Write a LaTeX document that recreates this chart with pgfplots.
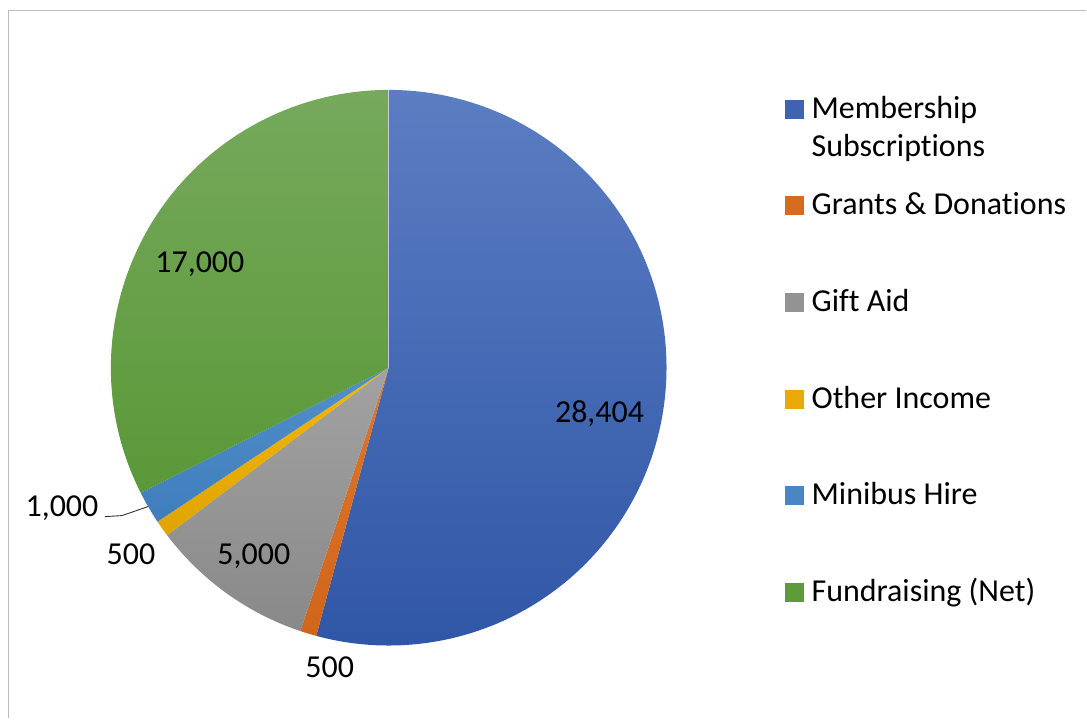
\documentclass[border=0pt]{standalone}
\usepackage{pgfplots}
\pgfplotsset{compat=1.18}
\usepackage{pgfplotstable}
\usepackage{fontspec}
\setmainfont{Carlito}[Ligatures=CommonOff]

\definecolor{cBlueT}{HTML}{5B7DC2}
\definecolor{cBlueB}{HTML}{2F56A6}
\definecolor{cOrT}{HTML}{E0762A}
\definecolor{cOrB}{HTML}{D0651C}
\definecolor{cGrT}{HTML}{A2A2A2}
\definecolor{cGrB}{HTML}{898989}
\definecolor{cYeT}{HTML}{F2B800}
\definecolor{cYeB}{HTML}{E0A400}
\definecolor{cLbT}{HTML}{5190CA}
\definecolor{cLbB}{HTML}{3F7DBD}
\definecolor{cGnT}{HTML}{76A95C}
\definecolor{cGnB}{HTML}{5A9838}
\definecolor{mBlue}{HTML}{3F63B0}
\definecolor{mOr}{HTML}{D66A1F}
\definecolor{mGr}{HTML}{939393}
\definecolor{mYe}{HTML}{E8AA08}
\definecolor{mLb}{HTML}{4A86C4}
\definecolor{mGn}{HTML}{5C9A3A}
\definecolor{frame}{HTML}{BCBCBC}

\pgfplotstableread{
label value
Membership 28404
Grants 500
GiftAid 5000
Other 500
Minibus 1000
Fundraising 17000
}\datatable

\begin{document}
\begin{tikzpicture}
\pgfplotstablegetelem{0}{value}\of\datatable \let\vA\pgfplotsretval
\pgfplotstablegetelem{1}{value}\of\datatable \let\vB\pgfplotsretval
\pgfplotstablegetelem{2}{value}\of\datatable \let\vC\pgfplotsretval
\pgfplotstablegetelem{3}{value}\of\datatable \let\vD\pgfplotsretval
\pgfplotstablegetelem{4}{value}\of\datatable \let\vE\pgfplotsretval
\pgfplotstablegetelem{5}{value}\of\datatable \let\vF\pgfplotsretval
\edef\tot{\fpeval{\vA+\vB+\vC+\vD+\vE+\vF}}
\edef\aO{90}
\edef\aA{\fpeval{\aO-360*\vA/\tot}}
\edef\aB{\fpeval{\aA-360*\vB/\tot}}
\edef\aC{\fpeval{\aB-360*\vC/\tot}}
\edef\aD{\fpeval{\aC-360*\vD/\tot}}
\edef\aE{\fpeval{\aD-360*\vE/\tot}}
\edef\aF{\fpeval{\aE-360*\vF/\tot}}
\def\R{278bp}
\begin{axis}[
  width=1087bp, height=719bp, scale only axis,
  xmin=0, xmax=1087, ymin=0, ymax=719,
  hide axis, clip=false,
  font=\fontsize{32bp}{38bp}\selectfont,
]
\path (axis cs:0,0) rectangle (axis cs:1087,719);
% frame (top and left visible)
\draw[frame, line width=1.6bp] (axis cs:8.5,0) -- (axis cs:8.5,708.5) -- (axis cs:1087,708.5);
% wedges
\shade[top color=cBlueT, bottom color=cBlueB] (axis cs:389,351) -- ++(\aO:\R) arc[start angle=\aO, end angle=\aA, radius=\R] -- cycle;
\shade[top color=cOrT, bottom color=cOrB] (axis cs:389,351) -- ++(\aA:\R) arc[start angle=\aA, end angle=\aB, radius=\R] -- cycle;
\shade[top color=cGrT, bottom color=cGrB] (axis cs:389,351) -- ++(\aB:\R) arc[start angle=\aB, end angle=\aC, radius=\R] -- cycle;
\shade[top color=cYeT, bottom color=cYeB] (axis cs:389,351) -- ++(\aC:\R) arc[start angle=\aC, end angle=\aD, radius=\R] -- cycle;
\shade[top color=cLbT, bottom color=cLbB] (axis cs:389,351) -- ++(\aD:\R) arc[start angle=\aD, end angle=\aE, radius=\R] -- cycle;
\shade[top color=cGnT, bottom color=cGnB] (axis cs:389,351) -- ++(\aE:\R) arc[start angle=\aE, end angle=\aF, radius=\R] -- cycle;
% data labels
\node[anchor=base] at (axis cs:600,296) {28,404};
\node[anchor=base] at (axis cs:200,446) {17,000};
\node[anchor=base] at (axis cs:254,154) {5,000};
\node[anchor=base] at (axis cs:131,154) {500};
\node[anchor=base] at (axis cs:62,202) {1,000};
\node[anchor=base] at (axis cs:330,41) {500};
\draw[black!80, line width=0.9bp] (axis cs:105,202) -- (axis cs:122,203) -- (axis cs:148,212);
% legend
\fill[mBlue] (axis cs:786,600) rectangle (axis cs:805,619);
\node[anchor=base west, inner sep=0pt] at (axis cs:812,600) {Membership};
\node[anchor=base west, inner sep=0pt] at (axis cs:812,562) {Subscriptions};
\fill[mOr] (axis cs:786,504) rectangle (axis cs:805,523);
\node[anchor=base west, inner sep=0pt] at (axis cs:812,504) {Grants \& Donations};
\fill[mGr] (axis cs:786,407) rectangle (axis cs:805,426);
\node[anchor=base west, inner sep=0pt] at (axis cs:812,407) {Gift Aid};
\fill[mYe] (axis cs:786,310) rectangle (axis cs:805,329);
\node[anchor=base west, inner sep=0pt] at (axis cs:812,310) {Other Income};
\fill[mLb] (axis cs:786,214) rectangle (axis cs:805,233);
\node[anchor=base west, inner sep=0pt] at (axis cs:812,214) {Minibus Hire};
\fill[mGn] (axis cs:786,117) rectangle (axis cs:805,136);
\node[anchor=base west, inner sep=0pt] at (axis cs:812,117) {Fundraising (Net)};
\end{axis}
\end{tikzpicture}
\end{document}
